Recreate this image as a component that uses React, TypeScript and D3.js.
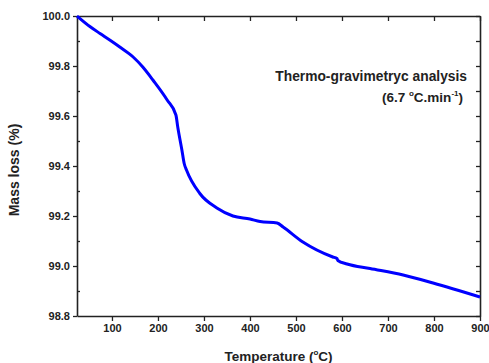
// App.tsx
import React, { useEffect, useRef } from "react";
import * as d3 from "d3";

// temperature (°C) and mass (%)
const temps = [24, 52, 74, 96, 117, 146, 167, 189, 220, 239, 243, 252, 257, 262, 291, 328, 363, 400, 422, 459, 472, 515, 580, 589, 591, 611, 661, 733, 798, 900];
const masses = [100.0, 99.958, 99.93, 99.903, 99.876, 99.836, 99.796, 99.744, 99.664, 99.604, 99.556, 99.464, 99.41, 99.384, 99.29, 99.232, 99.2, 99.188, 99.178, 99.172, 99.156, 99.096, 99.036, 99.03, 99.022, 99.008, 98.99, 98.964, 98.932, 98.876];
const xTicks = [100, 200, 300, 400, 500, 600, 700, 800, 900];
const yTicks = [98.8, 99.0, 99.2, 99.4, 99.6, 99.8, 100.0];
const yMinor = [98.9, 99.1, 99.3, 99.5, 99.7, 99.9];

const App = () => {
  const ref = useRef<SVGSVGElement>(null);

  useEffect(() => {
    renderChart();
  }, []);

  const renderChart = () => {
    const svg = d3.select(ref.current);
    svg.selectAll("*").remove();

    const margin = { top: 16, right: 9, bottom: 47, left: 77 };
    const width = 489 - margin.left - margin.right;
    const height = 363 - margin.top - margin.bottom;
    const font = "'Liberation Sans', Arial, sans-serif";

    const g = svg.append("g").attr("transform", `translate(${margin.left},${margin.top})`);

    const x = d3.scaleLinear().domain([24, 900]).range([0, width]);
    const y = d3.scaleLinear().domain([98.8, 100.0]).range([height, 0]);

    // bottom axis: ticks outward
    const bottom = g
      .append("g")
      .attr("transform", `translate(0,${height})`)
      .call(d3.axisBottom(x).tickValues(xTicks).tickSize(5).tickSizeOuter(0).tickPadding(3).tickFormat(d3.format("d")));
    bottom.selectAll("text").attr("font-size", 11).attr("font-weight", "bold").attr("font-family", font).attr("fill", "#222");

    // top axis: ticks inward, no labels
    g.append("g")
      .call(d3.axisBottom(x).tickValues(xTicks).tickSize(5).tickSizeOuter(0).tickFormat(() => ""));

    // left axis: major outward
    const left = g
      .append("g")
      .call(d3.axisLeft(y).tickValues(yTicks).tickSize(4).tickSizeOuter(0).tickPadding(3).tickFormat(d3.format(".1f")));
    left.selectAll("text").attr("font-size", 11).attr("font-weight", "bold").attr("font-family", font).attr("fill", "#222");

    // left minor inward
    g.append("g")
      .call(d3.axisRight(y).tickValues(yMinor).tickSize(3).tickSizeOuter(0).tickFormat(() => ""))
      .select(".domain").remove();

    // right axis: ticks inward
    g.append("g")
      .attr("transform", `translate(${width},0)`)
      .call(d3.axisLeft(y).tickValues(yTicks.concat(yMinor)).tickSize(4).tickSizeOuter(0).tickFormat(() => ""));

    g.selectAll(".domain").attr("stroke", "#222").attr("stroke-width", 1.6);
    g.selectAll(".tick line").attr("stroke", "#222").attr("stroke-width", 1.3);

    // curve
    const line = d3
      .line<number>()
      .x((d, i) => x(temps[i]))
      .y((d) => y(d))
      .curve(d3.curveMonotoneX);

    g.append("path")
      .datum(masses)
      .attr("fill", "none")
      .attr("stroke", "#0000ff")
      .attr("stroke-width", 3)
      .attr("stroke-linejoin", "round")
      .attr("d", line);

    // annotation
    g.append("text")
      .attr("x", 390)
      .attr("y", 65)
      .attr("text-anchor", "end")
      .attr("font-family", font)
      .attr("font-weight", "bold")
      .attr("font-size", 13.8)
      .attr("fill", "#222")
      .text("Thermo-gravimetryc analysis");

    const t2 = g
      .append("text")
      .attr("x", 386)
      .attr("y", 86)
      .attr("text-anchor", "end")
      .attr("font-family", font)
      .attr("font-weight", "bold")
      .attr("font-size", 13.5)
      .attr("fill", "#222");
    t2.append("tspan").text("(6.7 ");
    t2.append("tspan").attr("font-size", 8).attr("dy", -6).text("o");
    t2.append("tspan").attr("dy", 6).text("C.min");
    t2.append("tspan").attr("font-size", 8).attr("dy", -6).text("-1");
    t2.append("tspan").attr("dy", 6).text(")");

    // axis titles
    const xt = g
      .append("text")
      .attr("x", width / 2)
      .attr("y", height + 45)
      .attr("text-anchor", "middle")
      .attr("font-family", font)
      .attr("font-weight", "bold")
      .attr("font-size", 13.5)
      .attr("fill", "#222");
    xt.append("tspan").text("Temperature (");
    xt.append("tspan").attr("font-size", 8).attr("dy", -6).text("o");
    xt.append("tspan").attr("dy", 6).text("C)");

    g.append("text")
      .attr("transform", "rotate(-90)")
      .attr("x", -height / 2 - 4)
      .attr("y", -58)
      .attr("text-anchor", "middle")
      .attr("font-family", font)
      .attr("font-weight", "bold")
      .attr("font-size", 14)
      .attr("fill", "#222")
      .text("Mass loss (%)");
  };

  return (
    <svg
      ref={ref}
      width={489}
      height={363}
      style={{ position: "absolute", left: 0, top: 0, background: "#fff" }}
    />
  );
};

export default App;
